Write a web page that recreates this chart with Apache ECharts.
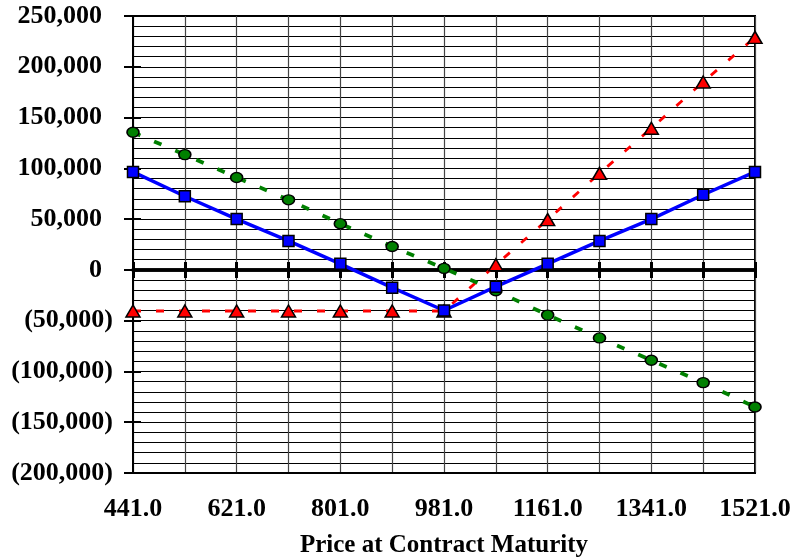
<!DOCTYPE html>
<html>
<head>
<meta charset="utf-8">
<script src="https://cdn.jsdelivr.net/npm/echarts@6/dist/echarts.min.js"></script>
<style>html,body{margin:0;padding:0;background:#fff}#c{width:792px;height:557px}</style>
</head>
<body>
<div id="c"></div>
<script>
var categories = ['441.0','531.0','621.0','711.0','801.0','891.0','981.0','1071.0','1161.0','1251.0','1341.0','1431.0','1521.0'];
var blueValues  = [96500, 72500, 50000, 28500, 6000, -17500, -40000, -16500, 6000, 28500, 50000, 74000, 96500];
var greenValues = [135500, 113500, 91000, 69000, 45500, 23000, 1500, -20500, -44500, -67000, -89000, -111000, -135000];
var redValues   = [-40500, -40500, -40500, -40500, -40500, -40500, -40500, 5000, 49500, 95000, 139500, 185000, 229000];
var yMin = -200000, yMax = 250000, yStep = 50000;
var xTitle = 'Price at Contract Maturity';

var FONT = 'Liberation Serif';
var gridBox = {left: 133, top: 16, right: 37, bottom: 84, outerBoundsMode: 'none', containLabel: false};

function yFmt(v) {
  var s = Math.abs(v).toLocaleString('en-US');
  return v < 0 ? '(' + s + ')' : '{p|' + s + '}';
}

var chart = echarts.init(document.getElementById('c'), null, {renderer: 'canvas'});
chart.setOption({
  animation: false,
  grid: [
    Object.assign({show: true, borderColor: '#000', borderWidth: 2, backgroundColor: 'transparent'}, gridBox),
    Object.assign({}, gridBox)
  ],
  xAxis: [
    {
      type: 'category', gridIndex: 0, position: 'bottom', data: categories, boundaryGap: false,
      axisLine: {onZero: false, lineStyle: {color: '#000', width: 2}},
      axisTick: {show: false},
      axisLabel: {interval: 1, margin: 23, color: '#000', fontFamily: FONT, fontWeight: 'bold', fontSize: 26},
      splitLine: {show: true, interval: 0, lineStyle: {color: '#444', width: 1.2}},
      name: xTitle, nameLocation: 'middle', nameGap: 60,
      nameTextStyle: {color: '#000', fontFamily: FONT, fontWeight: 'bold', fontSize: 25}
    },
    {
      type: 'category', gridIndex: 0, position: 'top', data: categories, boundaryGap: false,
      axisLine: {onZero: true, lineStyle: {color: '#000', width: 3.5}},
      axisTick: {show: true, interval: 0, length: 8, lineStyle: {color: '#000', width: 3}},
      axisLabel: {show: false},
      splitLine: {show: false}
    },
    {
      type: 'category', gridIndex: 1, position: 'bottom', data: categories, boundaryGap: false,
      axisLine: {onZero: true, lineStyle: {color: '#000', width: 3.5}},
      axisTick: {show: true, interval: 0, length: 8, lineStyle: {color: '#000', width: 3}},
      axisLabel: {show: false},
      splitLine: {show: false}
    }
  ],
  yAxis: [
    {
      type: 'value', gridIndex: 0, min: yMin, max: yMax, interval: yStep,
      axisLine: {show: true, lineStyle: {color: '#000', width: 2}},
      axisTick: {show: true, length: 9, lineStyle: {color: '#000', width: 2}},
      axisLabel: {margin: 20, color: '#000', fontFamily: FONT, fontWeight: 'bold', fontSize: 26,
        formatter: yFmt, rich: {p: {padding: [0, 11, 0, 0], fontFamily: FONT, fontWeight: 'bold', fontSize: 26, color: '#000'}}},
      splitLine: {show: true, lineStyle: {color: '#000', width: 1}},
      minorTick: {show: false, splitNumber: 5},
      minorSplitLine: {show: true, lineStyle: {color: '#000', width: 1}}
    },
    {
      type: 'value', gridIndex: 1, min: yMin, max: yMax, interval: yStep,
      axisLine: {show: false},
      axisTick: {show: true, inside: true, length: 8, lineStyle: {color: '#000', width: 2}},
      axisLabel: {show: false},
      splitLine: {show: false}
    }
  ],
  series: [
    {
      name: 'Red', type: 'line', xAxisIndex: 0, yAxisIndex: 0, data: redValues,
      symbol: 'triangle', symbolSize: [14, 12],
      lineStyle: {color: '#FF0000', width: 2.8, type: [8, 15]},
      itemStyle: {color: '#FF0000', borderColor: '#000', borderWidth: 1.5}, z: 3
    },
    {
      name: 'Green', type: 'line', xAxisIndex: 0, yAxisIndex: 0, data: greenValues,
      symbol: 'circle', symbolSize: [12, 10],
      lineStyle: {color: '#008000', width: 3.8, type: [8, 15]},
      itemStyle: {color: '#008000', borderColor: '#000', borderWidth: 1.5}, z: 4
    },
    {
      name: 'Blue', type: 'line', xAxisIndex: 0, yAxisIndex: 0, data: blueValues,
      symbol: 'rect', symbolSize: 11,
      lineStyle: {color: '#0000FF', width: 3.5},
      itemStyle: {color: '#0000FF', borderColor: '#000', borderWidth: 1.5}, z: 5
    }
  ]
});
</script>
</body>
</html>
